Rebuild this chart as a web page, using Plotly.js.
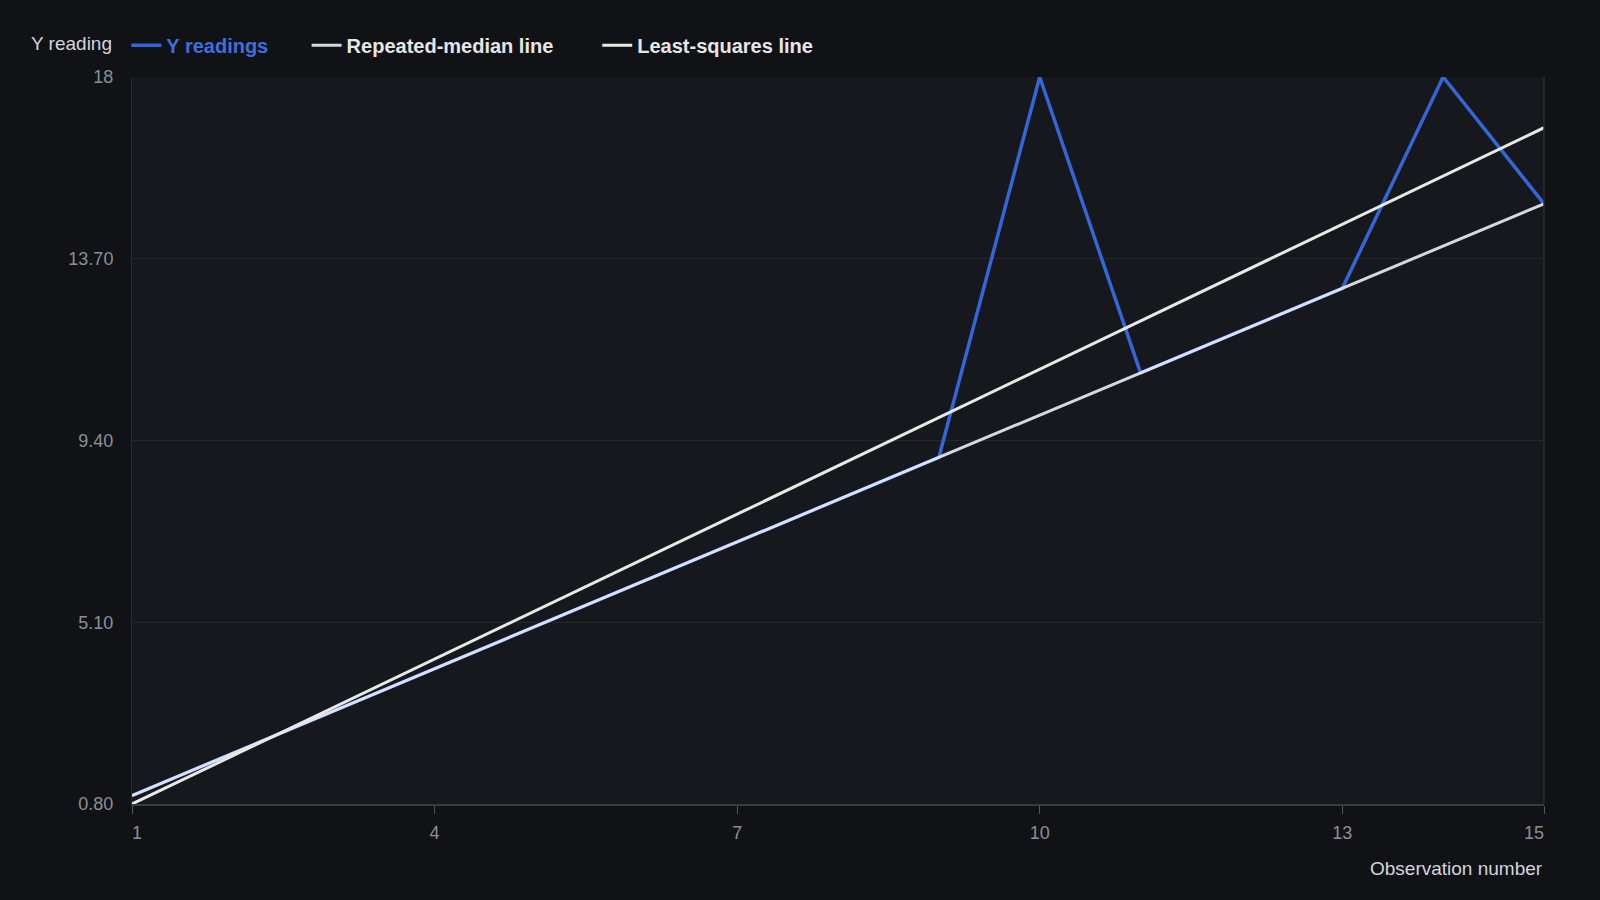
<!DOCTYPE html>
<html>
<head>
<meta charset="utf-8">
<script src="https://cdn.plot.ly/plotly-3.0.1.min.js"></script>
<style>
  html, body { margin: 0; padding: 0; background: #111216; }
  #chart { width: 1600px; height: 900px; }
</style>
</head>
<body>
<div id="chart"></div>
<script>
// observations and readings
const observations = [1, 2, 3, 4, 5, 6, 7, 8, 9, 10, 11, 12, 13, 14, 15];
const yReadings = [1, 2, 3, 4, 5, 6, 7, 8, 9, 18, 11, 12, 13, 18, 15];

// fitted lines, end points
const lineX = [1, 15];
const repeatedMedianY = [1, 15];
const leastSquaresY = [0.8, 16.8];

const xTicks = [1, 4, 7, 10, 13, 15];
const xTickText = ['&nbsp;&nbsp;1', '4', '7', '10', '13', '15&nbsp;&nbsp;&nbsp;&nbsp;'];
const yTicks = [0.8, 5.1, 9.4, 13.7, 18];
const yTickText = ['0.80', '5.10', '9.40', '13.70', '18'];

const traces = [
    {
        x: observations,
        y: yReadings,
        mode: 'lines',
        name: '<span style="color:#3e6fdc"><b>Y readings</b></span>&nbsp;&nbsp;&nbsp;&nbsp;&nbsp;&nbsp;',
        line: { color: '#3566d8', width: 3.5 }
    },
    {
        x: lineX,
        y: repeatedMedianY,
        mode: 'lines',
        name: '<b>Repeated-median line</b>&nbsp;&nbsp;&nbsp;&nbsp;&nbsp;&nbsp;&nbsp;',
        line: { color: 'rgba(240,242,248,0.88)', width: 3 }
    },
    {
        x: lineX,
        y: leastSquaresY,
        mode: 'lines',
        name: '<b>Least-squares line</b>',
        line: { color: '#e9e9e4', width: 3 }
    }
];

const layout = {
    width: 1600,
    height: 900,
    paper_bgcolor: '#111216',
    plot_bgcolor: '#16181d',
    font: { family: 'Liberation Sans, Arial, sans-serif', color: '#8c8f96', size: 18 },
    margin: { l: 132, r: 56, t: 77, b: 96 },
    showlegend: true,
    legend: {
        orientation: 'h',
        x: -0.004,
        xanchor: 'left',
        y: 1.017,
        yanchor: 'bottom',
        yref: 'paper',
        font: { size: 20, color: '#e6e6e6' },
        bgcolor: 'rgba(0,0,0,0)',
        itemwidth: 30
    },
    xaxis: {
        range: [1, 15],
        tickvals: xTicks,
        ticktext: xTickText,
        showgrid: false,
        zeroline: false,
        showline: true,
        linecolor: '#3a3c42',
        linewidth: 1.5,
        ticks: 'outside',
        ticklen: 8,
        tickcolor: '#55575d',
        ticklabelstandoff: 4,
        tickfont: { size: 18, color: '#8c8f96' }
    },
    yaxis: {
        range: [0.8, 18],
        tickvals: yTicks,
        ticktext: yTickText,
        showgrid: true,
        gridcolor: '#25272c',
        zeroline: false,
        showline: true,
        linecolor: '#2a2c31',
        ticks: '',
        ticklabelstandoff: 14,
        tickfont: { size: 18, color: '#8c8f96' }
    },
    shapes: [
        { type: 'line', xref: 'paper', yref: 'paper', x0: 1, x1: 1, y0: 0, y1: 1,
          line: { color: '#2a2c31', width: 1.5 } }
    ],
    annotations: [
        {
            text: 'Y reading',
            xref: 'paper', yref: 'paper',
            x: 0, y: 1,
            xanchor: 'right', yanchor: 'middle',
            xshift: -18, yshift: 34,
            showarrow: false,
            font: { size: 19, color: '#d4d6da' }
        },
        {
            text: 'Observation number',
            xref: 'paper', yref: 'paper',
            x: 1, y: 0,
            xanchor: 'right', yanchor: 'middle',
            xshift: 1, yshift: -64,
            showarrow: false,
            font: { size: 19, color: '#d4d6da' }
        }
    ]
};

Plotly.newPlot('chart', traces, layout, { displayModeBar: false });
</script>
</body>
</html>
